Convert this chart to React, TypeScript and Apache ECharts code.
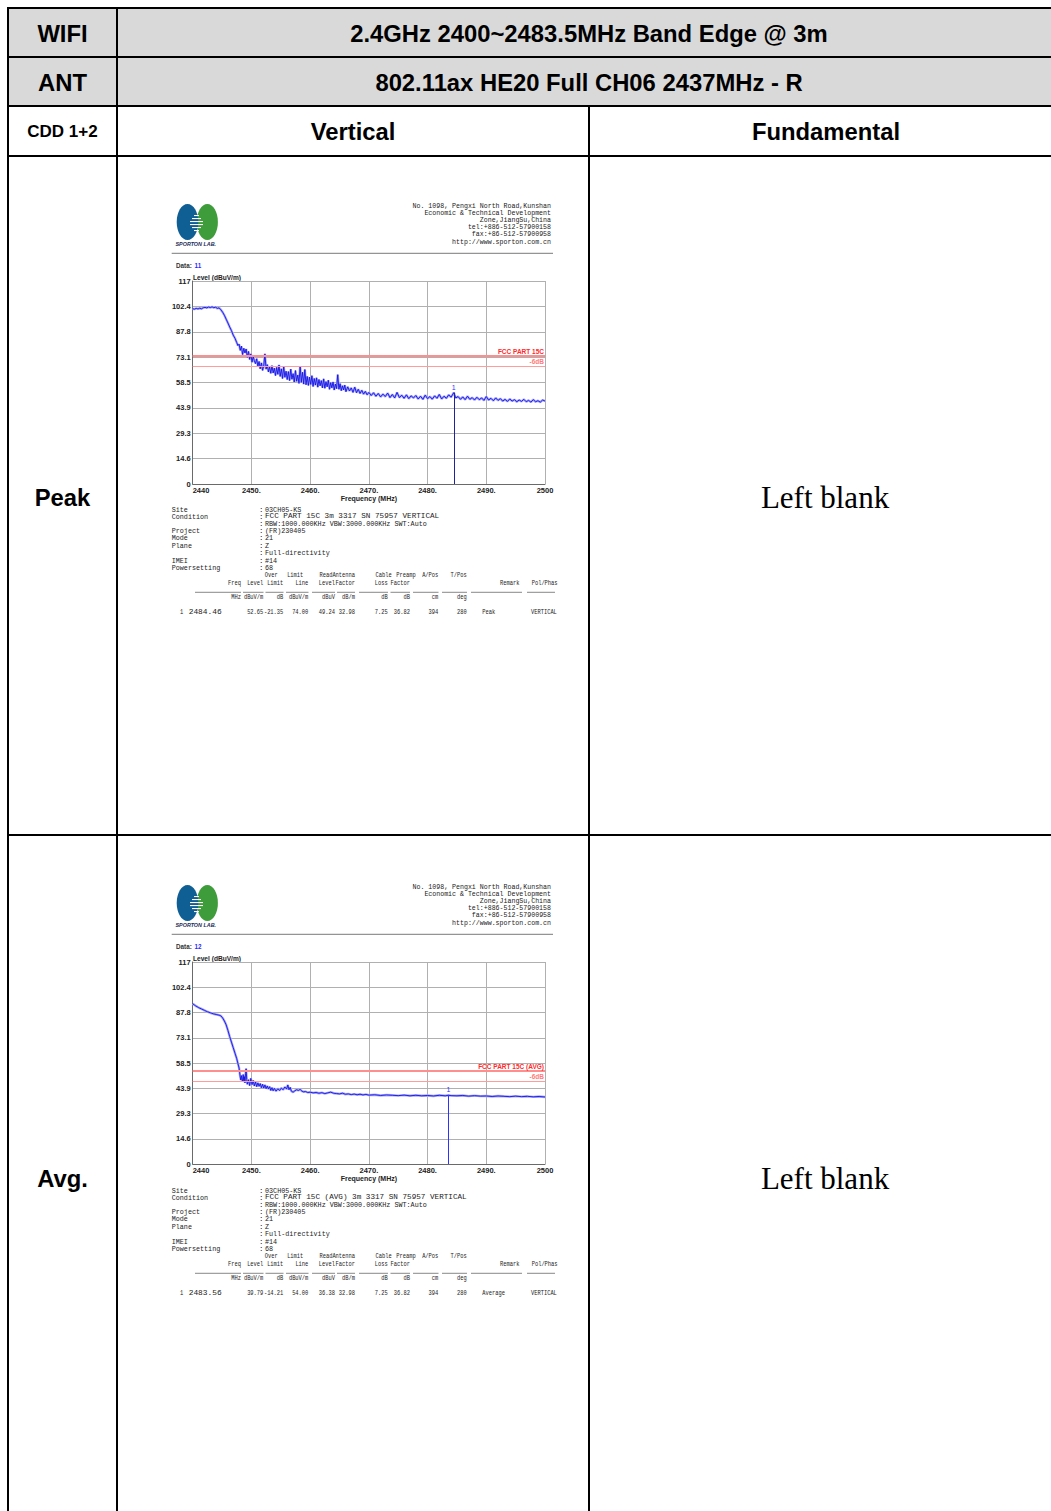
import React, { useEffect, useRef } from "react";
import * as echarts from "echarts";

// ---------- data ----------
const xTickLabels = ["2440", "2450.", "2460.", "2470.", "2480.", "2490.", "2500"];
const yTickLabels = ["0", "14.6", "29.3", "43.9", "58.5", "73.1", "87.8", "102.4", "117"];

const peakTrace: [number, number][] = [
  [2440.0, 101.0], [2440.3, 100.8], [2440.6, 101.2], [2440.9, 100.9], [2441.2, 101.3], [2441.5, 101.0],
  [2441.8, 101.6], [2442.1, 101.8], [2442.4, 101.5], [2442.7, 102.0], [2443.0, 101.7], [2443.3, 102.1],
  [2443.6, 101.6], [2443.9, 101.9], [2444.2, 101.2], [2444.5, 101.5], [2444.8, 100.4], [2445.1, 99.0],
  [2445.4, 97.2], [2445.7, 95.0], [2446.0, 92.8], [2446.3, 90.5], [2446.6, 88.4], [2446.9, 85.8],
  [2447.2, 84.0], [2447.5, 81.5], [2447.7, 79.8], [2447.9, 80.6], [2448.1, 77.0], [2448.3, 79.5],
  [2448.5, 74.6], [2448.7, 78.2], [2448.9, 75.5], [2449.1, 77.8], [2449.3, 73.0], [2449.5, 76.4],
  [2449.7, 71.8], [2449.9, 75.0], [2450.1, 70.2], [2450.3, 73.5], [2450.5, 71.0], [2450.7, 69.4],
  [2450.9, 72.2], [2451.1, 67.8], [2451.3, 70.6], [2451.5, 66.4], [2451.7, 69.8], [2451.9, 65.5],
  [2452.1, 68.0], [2452.3, 75.0], [2452.5, 66.2], [2452.7, 68.8], [2452.9, 64.6], [2453.1, 67.5],
  [2453.3, 63.8], [2453.5, 68.2], [2453.7, 64.0], [2453.9, 66.8], [2454.1, 62.5], [2454.3, 67.2],
  [2454.5, 63.2], [2454.7, 68.6], [2454.9, 62.0], [2455.1, 66.4], [2455.3, 60.8], [2455.5, 67.8],
  [2455.7, 61.5], [2455.9, 65.0], [2456.1, 60.2], [2456.3, 64.8], [2456.5, 59.6], [2456.7, 66.2],
  [2456.9, 60.4], [2457.1, 63.6], [2457.3, 58.8], [2457.5, 65.4], [2457.7, 59.2], [2457.9, 62.8],
  [2458.1, 58.0], [2458.3, 68.0], [2458.5, 58.6], [2458.7, 64.4], [2458.9, 57.6], [2459.1, 66.0],
  [2459.3, 57.2], [2459.5, 62.0], [2459.7, 56.8], [2459.9, 61.6], [2460.1, 57.4], [2460.3, 62.4],
  [2460.5, 56.2], [2460.7, 60.8], [2460.9, 57.0], [2461.1, 61.2], [2461.3, 55.8], [2461.5, 60.2],
  [2461.7, 56.6], [2461.9, 59.6], [2462.1, 55.4], [2462.3, 60.6], [2462.5, 55.2], [2462.7, 59.0],
  [2462.9, 56.0], [2463.1, 59.8], [2463.3, 54.6], [2463.5, 58.4], [2463.7, 55.4], [2463.9, 58.8],
  [2464.1, 54.2], [2464.3, 57.6], [2464.5, 55.0], [2464.7, 63.0], [2464.9, 54.6], [2465.1, 57.8],
  [2465.3, 53.8], [2465.5, 56.6], [2465.7, 54.2], [2465.9, 57.0], [2466.1, 53.2], [2466.4, 56.0],
  [2466.7, 53.6], [2467.0, 55.4], [2467.3, 52.8], [2467.6, 55.8], [2467.9, 52.6], [2468.2, 54.6],
  [2468.5, 52.2], [2468.8, 54.0], [2469.1, 51.8], [2469.4, 53.4], [2469.7, 51.4], [2470.0, 52.8],
  [2470.4, 51.0], [2470.8, 52.6], [2471.2, 50.6], [2471.6, 52.2], [2472.0, 50.2], [2472.4, 51.8],
  [2472.8, 50.4], [2473.2, 52.4], [2473.6, 49.8], [2474.0, 51.6], [2474.4, 49.6], [2474.8, 52.8],
  [2475.2, 49.8], [2475.6, 51.2], [2476.0, 49.4], [2476.4, 51.4], [2476.8, 49.2], [2477.2, 50.8],
  [2477.6, 49.6], [2478.0, 51.0], [2478.4, 49.0], [2478.8, 50.6], [2479.2, 48.8], [2479.6, 51.2],
  [2480.0, 49.2], [2480.4, 50.4], [2480.8, 48.9], [2481.2, 50.8], [2481.6, 49.4], [2482.0, 51.6],
  [2482.4, 49.0], [2482.8, 50.6], [2483.2, 49.4], [2483.6, 51.4], [2484.0, 50.0], [2484.46, 52.65],
  [2484.8, 49.6], [2485.2, 50.4], [2485.6, 48.8], [2486.0, 50.2], [2486.4, 48.6], [2486.8, 50.6],
  [2487.2, 48.8], [2487.6, 49.8], [2488.0, 48.4], [2488.4, 50.0], [2488.8, 48.6], [2489.2, 49.6],
  [2489.6, 48.2], [2490.0, 50.4], [2490.4, 48.4], [2490.8, 49.4], [2491.2, 48.0], [2491.6, 49.6],
  [2492.0, 48.2], [2492.4, 49.2], [2492.8, 47.8], [2493.2, 48.8], [2493.6, 47.6], [2494.0, 49.0],
  [2494.4, 47.8], [2494.8, 48.6], [2495.2, 47.4], [2495.6, 48.4], [2496.0, 47.6], [2496.4, 48.8],
  [2496.8, 47.4], [2497.2, 48.2], [2497.6, 47.2], [2498.0, 48.6], [2498.4, 47.4], [2498.8, 48.0],
  [2499.2, 47.2], [2499.6, 48.4], [2500.0, 47.8],
];

const avgTrace: [number, number][] = [
  [2440.0, 92.8], [2440.5, 91.6], [2441.0, 90.6], [2441.5, 89.8], [2442.0, 89.0], [2442.5, 88.2],
  [2443.0, 87.6], [2443.5, 87.0], [2444.0, 86.6], [2444.5, 86.2], [2444.8, 85.8], [2445.1, 84.6],
  [2445.4, 82.8], [2445.7, 80.6], [2446.0, 77.4], [2446.3, 73.8], [2446.6, 70.6], [2446.9, 67.4],
  [2447.2, 64.2], [2447.5, 61.0], [2447.7, 58.2], [2447.9, 55.6], [2448.0, 52.8], [2448.1, 50.4],
  [2448.2, 48.6], [2448.3, 51.2], [2448.4, 49.0], [2448.5, 47.8], [2448.6, 51.8], [2448.7, 48.2],
  [2448.8, 50.6], [2448.9, 47.0], [2449.0, 52.4], [2449.1, 55.2], [2449.2, 49.0], [2449.3, 46.2],
  [2449.5, 48.8], [2449.7, 45.4], [2449.9, 49.6], [2450.1, 46.0], [2450.3, 48.4], [2450.5, 45.2],
  [2450.7, 47.6], [2450.9, 44.8], [2451.1, 47.0], [2451.3, 45.0], [2451.5, 46.6], [2451.7, 44.2],
  [2451.9, 46.2], [2452.1, 44.0], [2452.3, 45.8], [2452.5, 43.6], [2452.7, 45.2], [2452.9, 43.4],
  [2453.1, 44.8], [2453.3, 42.6], [2453.5, 44.2], [2453.7, 42.4], [2453.9, 43.8], [2454.2, 42.2],
  [2454.5, 43.6], [2454.8, 42.6], [2455.1, 44.0], [2455.4, 43.0], [2455.7, 44.6], [2456.0, 43.4],
  [2456.2, 45.8], [2456.4, 43.0], [2456.6, 44.4], [2456.8, 42.2], [2457.1, 41.6], [2457.4, 42.4],
  [2457.7, 43.0], [2458.0, 42.6], [2458.3, 43.2], [2458.6, 42.2], [2458.9, 41.8], [2459.2, 42.0],
  [2459.6, 41.4], [2460.0, 41.6], [2460.5, 41.2], [2461.0, 41.4], [2461.5, 41.0], [2462.0, 41.3],
  [2462.5, 40.8], [2463.0, 41.2], [2463.5, 41.6], [2464.0, 41.0], [2464.5, 40.8], [2465.0, 40.6],
  [2465.5, 41.0], [2466.0, 40.4], [2466.5, 40.6], [2467.0, 40.2], [2467.5, 40.5], [2468.0, 40.1],
  [2468.5, 40.4], [2469.0, 40.0], [2469.5, 40.3], [2470.0, 39.9], [2471.0, 40.1], [2472.0, 39.7],
  [2473.0, 40.0], [2474.0, 39.8], [2475.0, 39.6], [2476.0, 39.9], [2477.0, 39.5], [2478.0, 39.8],
  [2479.0, 39.5], [2480.0, 39.7], [2481.0, 39.4], [2482.0, 39.8], [2483.0, 39.5], [2483.56, 39.79],
  [2484.0, 39.6], [2485.0, 39.5], [2486.0, 39.7], [2487.0, 39.3], [2488.0, 39.6], [2489.0, 39.3],
  [2490.0, 39.4], [2491.0, 39.1], [2492.0, 39.4], [2493.0, 39.2], [2494.0, 39.0], [2495.0, 39.3],
  [2496.0, 39.0], [2497.0, 39.2], [2498.0, 38.9], [2499.0, 39.1], [2500.0, 38.8],
];

const peakMarker: [number, number] = [2484.46, 52.65];
const avgMarker: [number, number] = [2483.56, 39.79];
const peakLimit = 74;
const avgLimit = 54;
const limitMargin = 6;
const peakLimitName = "FCC PART 15C";
const avgLimitName = "FCC PART 15C (AVG)";

const headerRow1 = ["WIFI", "2.4GHz 2400~2483.5MHz Band Edge @ 3m"];
const headerRow2 = ["ANT", "802.11ax HE20 Full CH06 2437MHz - R"];
const headerRow3 = ["CDD 1+2", "Vertical", "Fundamental"];
const rowLabels = ["Peak", "Avg."];
const blankText = "Left blank";

const addressLines = [
  "No. 1098, Pengxi North Road,Kunshan",
  "Economic & Technical Development",
  "Zone,JiangSu,China",
  "tel:+886-512-57900158",
  "fax:+86-512-57900958",
  "http://www.sporton.com.cn",
];
const infoLabels = ["Site", "Condition", "", "Project", "Mode", "Plane", "", "IMEI", "Powersetting"];
const peakInfo = ["03CH05-KS", "FCC PART 15C 3m 3317 SN 75957 VERTICAL", "RBW:1000.000KHz VBW:3000.000KHz SWT:Auto", "(FR)230405", "21", "Z", "Full-directivity", "#14", "68"];
const avgInfo = ["03CH05-KS", "FCC PART 15C (AVG) 3m 3317 SN 75957 VERTICAL", "RBW:1000.000KHz VBW:3000.000KHz SWT:Auto", "(FR)230405", "21", "Z", "Full-directivity", "#14", "68"];
const colHead1 = ["Over", "Limit", "ReadAntenna", "Cable", "Preamp", "A/Pos", "T/Pos"];
const colHead2 = ["Freq", "Level", "Limit", "Line", "Level", "Factor", "Loss", "Factor"];
const colRemark = ["Remark", "Pol/Phas"];
const colUnits = ["MHz", "dBuV/m", "dB", "dBuV/m", "dBuV", "dB/m", "dB", "dB", "cm", "deg"];
const peakRow = ["1", "2484.46", "52.65", "-21.35", "74.00", "49.24", "32.98", "7.25", "36.82", "394", "280", "Peak", "VERTICAL"];
const avgRow = ["1", "2483.56", "39.79", "-14.21", "54.00", "36.38", "32.98", "7.25", "36.82", "394", "280", "Average", "VERTICAL"];
const dataNumbers = ["11", "12"];

// ---------- layout helpers ----------
const SANS = '"Liberation Sans", Arial, sans-serif';
const MONO = '"Liberation Mono", "DejaVu Sans Mono", monospace';

function txt(text: string, x: number, y: number, font: string, fill = "#000", align = "left", vAlign = "middle", scaleX = 1) {
  return {
    type: "text",
    x,
    y,
    scaleX,
    silent: true,
    style: { text, font, fill, align, verticalAlign: vAlign, textAlign: align, textVerticalAlign: vAlign },
  };
}
function ln(x1: number, y1: number, x2: number, y2: number, stroke = "#000", lineWidth = 2) {
  return { type: "line", silent: true, shape: { x1, y1, x2, y2 }, style: { stroke, lineWidth } };
}

function panelGraphics(dy: number, dataNo: string, info: string[], row: string[]) {
  const els: any[] = [];
  // logo
  els.push({ type: "ellipse", silent: true, shape: { cx: 207.3, cy: 222 + dy, rx: 10.6, ry: 18 }, style: { fill: "#3e9c3a" } });
  els.push({ type: "ellipse", silent: true, shape: { cx: 187.5, cy: 222 + dy, rx: 10.8, ry: 18 }, style: { fill: "#0f5e94" } });
  const stripes = [[215, 5], [218, 9], [221, 13], [224, 13], [227, 9], [230, 5]];
  stripes.forEach(([y, w]) => {
    els.push({ type: "rect", silent: true, shape: { x: 196.5 - w / 2, y: y + dy, width: w, height: 1.1 }, style: { fill: "#ffffff" } });
  });
  els.push(txt("SPORTON LAB.", 175.5, 244 + dy, `italic bold 5.4px ${SANS}`, "#1b2c58"));
  const ys = [206.5, 213.5, 220.3, 227.3, 234.5, 242];
  addressLines.forEach((s, i) => {
    els.push(txt(s, 551, ys[i] + dy, `6.6px ${MONO}`, "#222", "right"));
  });
  els.push(ln(171.7, 253.3 + dy, 553, 253.3 + dy, "#7a7a7a", 1));
  els.push(txt("Data:", 176, 265 + dy, `bold 6.3px ${SANS}`, "#333"));
  els.push(txt(dataNo, 194.5, 265 + dy, `bold 6.3px ${SANS}`, "#2a2aff"));
  els.push(txt("Level (dBuV/m)", 193, 277 + dy, `bold 6.6px ${SANS}`, "#222"));

  // info block
  const infoY = [509.5, 516.5, 523.5, 531, 538.3, 545.7, 553, 560.5, 567.8];
  const mf = `7.5px ${MONO}`;
  infoLabels.forEach((l, i) => {
    if (l) els.push(txt(l, 171.7, infoY[i] + dy, mf, "#222", "left", "middle", 0.9));
    els.push(txt(":", 259, infoY[i] + dy, mf, "#222"));
    els.push(txt(info[i], 265, infoY[i] + dy, mf, "#222", "left", "middle", i === 1 ? 1.02 : 0.9));
  });
  // column headers
  const sx = 0.72;
  const h1x = [277.7, 303.3, 355, 391.7, 415.7, 438.3, 466.7];
  colHead1.forEach((s, i) => els.push(txt(s, h1x[i], 575.5 + dy, mf, "#222", "right", "middle", sx)));
  const colR = [241, 263.3, 283.3, 308.3, 335, 355, 387.7, 410, 438.3, 466.7];
  colHead2.forEach((s, i) => els.push(txt(s, colR[i], 582.8 + dy, mf, "#222", "right", "middle", sx)));
  els.push(txt(colRemark[0], 500, 582.8 + dy, mf, "#222", "left", "middle", sx));
  els.push(txt(colRemark[1], 531.7, 582.8 + dy, mf, "#222", "left", "middle", sx));
  const dashes = [[195, 241], [243, 263.5], [265.5, 283.5], [286, 308.5], [312, 335], [337, 355], [359, 388], [390.5, 410], [413, 438.5], [442, 467], [471, 522], [527, 555]];
  dashes.forEach(([a, b]) => els.push(ln(a, 592.3 + dy, b, 592.3 + dy, "#555", 0.7)));
  colUnits.forEach((s, i) => els.push(txt(s, colR[i], 597.6 + dy, mf, "#222", "right", "middle", sx)));
  // data row
  els.push(txt(row[0], 180, 612 + dy, mf, "#222", "left", "middle", sx));
  els.push(txt(row[1], 221.7, 612 + dy, mf, "#222", "right", "middle", 1.05));
  for (let i = 2; i <= 10; i++) els.push(txt(row[i], colR[i - 1], 612 + dy, mf, "#222", "right", "middle", sx));
  els.push(txt(row[11], 482.3, 612 + dy, mf, "#222", "left", "middle", sx));
  els.push(txt(row[12], 531, 612 + dy, mf, "#222", "left", "middle", sx));
  return els;
}

function tableGraphics() {
  const els: any[] = [];
  els.push({ type: "rect", silent: true, shape: { x: 8, y: 8, width: 1060, height: 98 }, style: { fill: "#d9d9d9" } });
  [8, 57, 106, 156, 835].forEach((y) => els.push(ln(7, y, 1070, y, "#000", 2)));
  els.push(ln(8, 7, 8, 1530, "#000", 2));
  els.push(ln(117, 7, 117, 1530, "#000", 2));
  els.push(ln(589, 106, 589, 1530, "#000", 2));
  const big = `bold 23.8px ${SANS}`;
  els.push(txt(headerRow1[0], 62.5, 33, big, "#000", "center"));
  els.push(txt(headerRow1[1], 589, 33, big, "#000", "center"));
  els.push(txt(headerRow2[0], 62.5, 82, big, "#000", "center"));
  els.push(txt(headerRow2[1], 589, 82, big, "#000", "center"));
  els.push(txt(headerRow3[0], 62.5, 131, `bold 17px ${SANS}`, "#000", "center"));
  els.push(txt(headerRow3[1], 353, 131, big, "#000", "center"));
  els.push(txt(headerRow3[2], 826, 131, big, "#000", "center"));
  els.push(txt(rowLabels[0], 62.5, 497, big, "#000", "center"));
  els.push(txt(rowLabels[1], 62.5, 1178, big, "#000", "center"));
  const serif = `31px "Liberation Serif", "Times New Roman", serif`;
  els.push(txt(blankText, 825, 497, serif, "#000", "center"));
  els.push(txt(blankText, 825, 1178, serif, "#000", "center"));
  return els;
}

function axesFor(i: number) {
  const lab = { fontSize: 7.5, fontWeight: "bold", color: "#222", fontFamily: SANS, margin: 2 };
  const x = {
    gridIndex: i,
    type: "value",
    min: 2440,
    max: 2500,
    interval: 10,
    axisLine: { show: true, lineStyle: { color: "#6a6a6a", width: 1 } },
    axisTick: { show: false },
    splitLine: { show: true, lineStyle: { color: "#b0b0b0", width: 1 } },
    axisLabel: { ...lab, alignMinLabel: "left", formatter: (v: number) => xTickLabels[Math.round((v - 2440) / 10)] },
    name: "Frequency (MHz)",
    nameLocation: "middle",
    nameGap: 9,
    nameTextStyle: { fontSize: 7, fontWeight: "bold", color: "#222", fontFamily: SANS },
  };
  const y = {
    gridIndex: i,
    type: "value",
    min: 0,
    max: 117,
    interval: 14.625,
    axisLine: { show: true, lineStyle: { color: "#6a6a6a", width: 1 } },
    axisTick: { show: false },
    splitLine: { show: true, lineStyle: { color: "#b0b0b0", width: 1 } },
    axisLabel: { ...lab, formatter: (v: number) => yTickLabels[Math.round(v / 14.625)] },
  };
  return { x, y };
}

function seriesFor(i: number, trace: [number, number][], marker: [number, number], limit: number, limitName: string, markerColor: string) {
  const limLabel = { show: true, position: "insideEndTop", fontSize: 6.5, fontWeight: "bold", fontFamily: SANS, distance: 1 };
  return [
    {
      type: "line",
      xAxisIndex: i,
      yAxisIndex: i,
      data: trace,
      showSymbol: false,
      symbol: "none",
      silent: true,
      z: 2,
      lineStyle: { color: "#a9a9ff", width: 2.4 },
    },
    {
      type: "line",
      xAxisIndex: i,
      yAxisIndex: i,
      data: trace,
      showSymbol: false,
      symbol: "none",
      silent: true,
      z: 3,
      lineStyle: { color: "#1414e0", width: 0.9 },
      markLine: {
        silent: true,
        symbol: ["none", "none"],
        animation: false,
        data: [
          {
            yAxis: limit,
            lineStyle: { color: "#ff8e8e", width: 2.2, type: "solid" },
            label: { ...limLabel, formatter: limitName, color: "#ff2a2a" },
          },
          {
            yAxis: limit - limitMargin,
            lineStyle: { color: "#ff9c9c", width: 1, type: "solid" },
            label: { ...limLabel, formatter: "-" + limitMargin + "dB", color: "#ff7a7a" },
          },
          [
            {
              coord: [marker[0], marker[1]],
              lineStyle: { color: markerColor, width: 1, type: "solid" },
              label: { show: true, position: "start", formatter: "1", fontSize: 7, color: "#3030ff", fontFamily: SANS, distance: 2 },
            },
            { coord: [marker[0], 0] },
          ],
        ],
      },
    },
  ];
}

export default function App() {
  const ref = useRef<HTMLDivElement>(null);
  useEffect(() => {
    if (!ref.current) return;
    const chart = echarts.init(ref.current, undefined, { renderer: "svg" });
    const a0 = axesFor(0);
    const a1 = axesFor(1);
    const option: any = {
      animation: false,
      backgroundColor: "#ffffff",
      textStyle: { fontFamily: SANS },
      grid: [
        { left: 192.7, top: 281, width: 352.3, height: 203, containLabel: false },
        { left: 192.7, top: 962, width: 352.3, height: 202, containLabel: false },
      ],
      xAxis: [a0.x, a1.x],
      yAxis: [a0.y, a1.y],
      graphic: {
        elements: [
          ...tableGraphics(),
          ...panelGraphics(0, dataNumbers[0], peakInfo, peakRow),
          ...panelGraphics(681, dataNumbers[1], avgInfo, avgRow),
        ],
      },
      series: [
        ...seriesFor(0, peakTrace, peakMarker, peakLimit, peakLimitName, "#22229a"),
        ...seriesFor(1, avgTrace, avgMarker, avgLimit, avgLimitName, "#3030ff"),
      ],
    };
    chart.setOption(option);
    return () => chart.dispose();
  }, []);
  return (
    <div style={{ position: "absolute", left: 0, top: 0, width: 1051, height: 1511, overflow: "hidden", background: "#fff" }}>
      <div ref={ref} style={{ width: 1051, height: 1511 }} />
    </div>
  );
}
